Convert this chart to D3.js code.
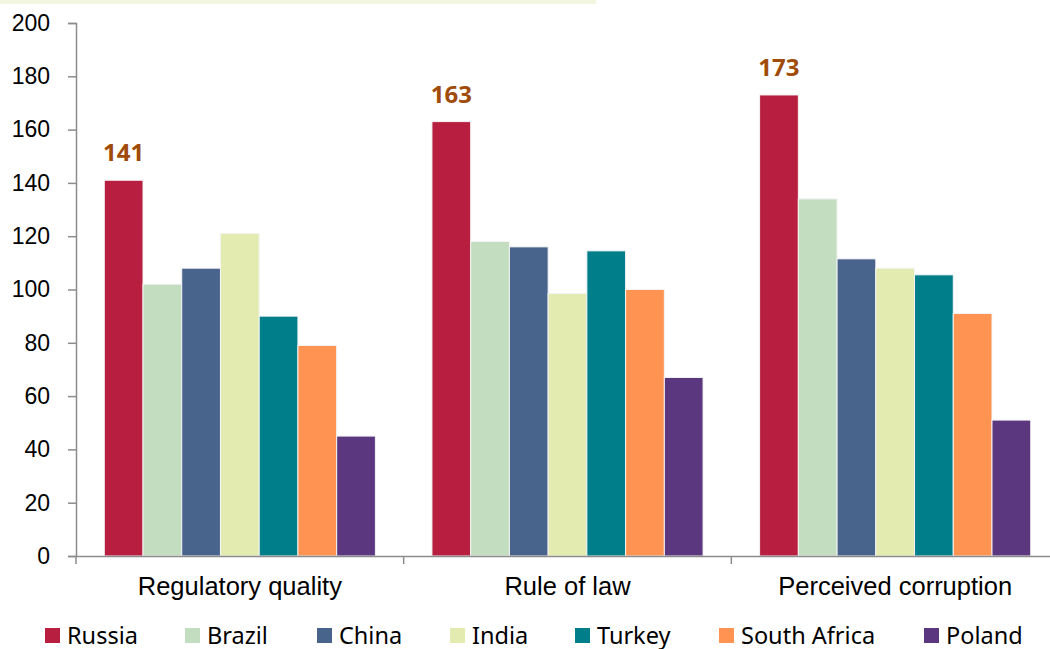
<!DOCTYPE html>
<html>
<head>
<meta charset="utf-8">
<script src="https://cdn.jsdelivr.net/npm/d3@7"></script>
<style>
  html, body { margin: 0; padding: 0; background: #fff; }
  svg { display: block; }
</style>
</head>
<body>
<svg id="chart" width="1050" height="649"></svg>
<script>
// Governance indicators by country
const categories = ["Regulatory quality", "Rule of law", "Perceived corruption"];
const countries = ["Russia", "Brazil", "China", "India", "Turkey", "South Africa", "Poland"];
const russia      = [141, 163, 173];
const brazil      = [102, 118, 134];
const china       = [108, 116, 111.5];
const india       = [121, 98.5, 108];
const turkey      = [90, 114.5, 105.5];
const southAfrica = [79, 100, 91];
const poland      = [45, 67, 51];
const yTicks = [0, 20, 40, 60, 80, 100, 120, 140, 160, 180, 200];
const colors = ["#b71e3f", "#c2ddbf", "#48648c", "#e3ebb0", "#007e8a", "#ff9352", "#5b3780"];
const labelled = "Russia";

const seriesValues = [russia, brazil, china, india, turkey, southAfrica, poland];
const rows = categories.map((c, i) => ({
  category: c,
  values: countries.map((k, j) => ({ country: k, value: seriesValues[j][i] }))
}));

const svg = d3.select("#chart");

// light strip across the top
svg.append("rect")
  .attr("x", 0).attr("y", 0).attr("width", 596).attr("height", 4)
  .attr("fill", "#f2f5e0");

const plotLeft = 76, plotRight = 1059, plotTop = 23, plotBottom = 556;

const x0 = d3.scaleBand().domain(categories).range([plotLeft, plotRight]).paddingInner(0).paddingOuter(0);
const x1 = d3.scaleBand().domain(countries).range([0, x0.bandwidth()]).paddingInner(0).paddingOuter(0.73);
const y = d3.scaleLinear().domain([0, 200]).range([plotBottom, plotTop]);
const color = d3.scaleOrdinal().domain(countries).range(colors);

// y axis
const yAxis = svg.append("g")
  .attr("transform", `translate(${plotLeft},0)`)
  .call(d3.axisLeft(y).tickValues(yTicks).tickSize(8).tickPadding(18));
yAxis.select(".domain").attr("stroke", "#8c8c8c").attr("stroke-width", 1.5);
yAxis.selectAll(".tick line").attr("stroke", "#8c8c8c").attr("stroke-width", 1.5);
yAxis.selectAll("text")
  .attr("font-family", "'Liberation Sans', Arial, sans-serif")
  .attr("font-size", 23).attr("fill", "#000");

// bars
const groups = svg.append("g").selectAll("g")
  .data(rows).join("g")
  .attr("transform", d => `translate(${x0(d.category)},0)`);

groups.selectAll("rect")
  .data(d => d.values).join("rect")
  .attr("x", d => x1(d.country))
  .attr("y", d => y(d.value))
  .attr("width", x1.bandwidth())
  .attr("height", d => y(0) - y(d.value))
  .attr("fill", d => color(d.country))
  .attr("stroke", "#f4f4f4")
  .attr("stroke-width", 1);

// value labels above the Russia bars
groups.selectAll("text.value")
  .data(d => d.values.filter(v => v.country === labelled)).join("text")
  .attr("class", "value")
  .attr("x", d => x1(d.country) + x1.bandwidth() / 2)
  .attr("y", d => y(d.value) - 19)
  .attr("text-anchor", "middle")
  .attr("font-family", "'Noto Sans', sans-serif")
  .attr("font-weight", "bold")
  .attr("font-size", 24)
  .attr("fill", "#a04b08")
  .text(d => d3.format("d")(d.value));

// x axis
const xAxis = svg.append("g")
  .attr("transform", `translate(0,${plotBottom})`)
  .call(d3.axisBottom(x0).tickSize(0).tickPadding(21));
xAxis.select(".domain").attr("stroke", "#8c8c8c").attr("stroke-width", 1.5);
xAxis.selectAll("text")
  .attr("font-family", "'Liberation Sans', Arial, sans-serif")
  .attr("font-size", 25.5).attr("fill", "#000");
// boundary ticks between categories
const bounds = categories.map(c => x0(c)).concat([x0.range()[1]]);
xAxis.selectAll("line.bound")
  .data(bounds).join("line")
  .attr("class", "bound")
  .attr("x1", d => d).attr("x2", d => d)
  .attr("y1", 0).attr("y2", 8)
  .attr("stroke", "#8c8c8c").attr("stroke-width", 1.5);

// legend
const legendX = [45, 185, 317, 450, 575, 719, 924];
const legend = svg.append("g").selectAll("g")
  .data(countries).join("g")
  .attr("transform", (d, i) => `translate(${legendX[i]},628)`);
legend.append("rect")
  .attr("width", 15).attr("height", 15)
  .attr("fill", d => color(d));
legend.append("text")
  .attr("x", 22).attr("y", 15.5)
  .attr("font-family", "'Noto Sans', sans-serif")
  .attr("font-size", 23.5)
  .attr("fill", "#000")
  .text(d => d);
</script>
</body>
</html>
